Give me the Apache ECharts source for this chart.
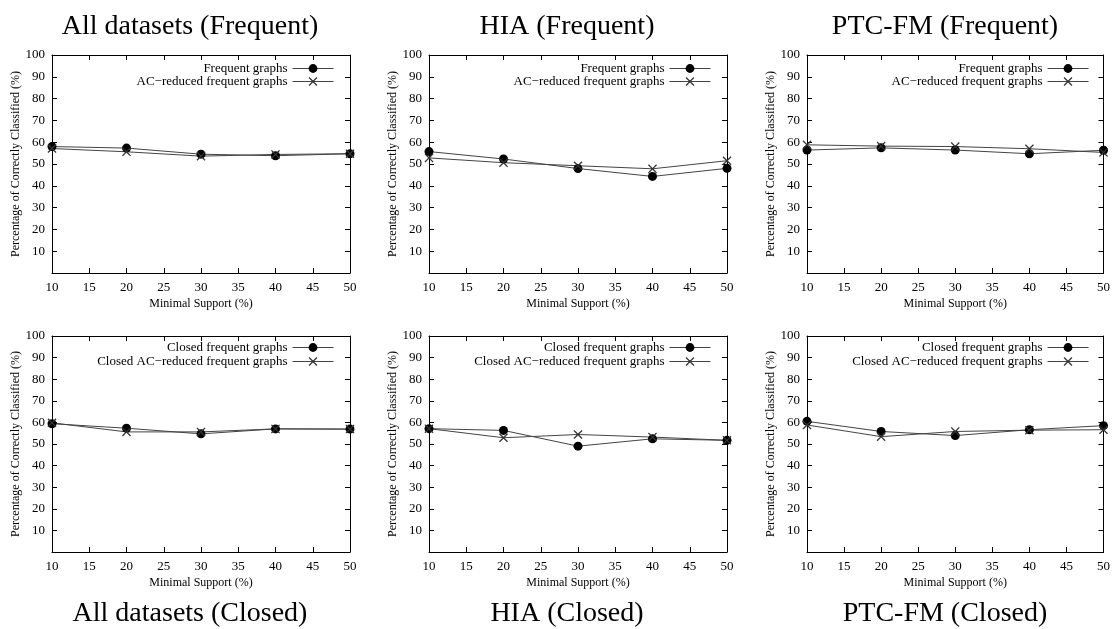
<!DOCTYPE html>
<html lang="en">
<head>
<meta charset="UTF-8">
<title>Correctly classified vs minimal support</title>
<style>
    html, body { margin: 0; padding: 0; background: #fff; }
    #chart { width: 1113px; height: 629px; }
</style>
</head>
<body>
<div id="chart"></div>
<script src="https://cdn.jsdelivr.net/npm/echarts@6/dist/echarts.min.js"></script>
<script>
    // minimal support (%) on the x axis
    let support = [10, 20, 30, 40, 50];

    // top row: frequent graphs
    let allFreq = [58.0, 57.3, 54.5, 53.8, 54.7];
    let allFreqAC = [57.1, 55.6, 53.6, 54.4, 54.7];
    let hiaFreq = [55.7, 52.3, 47.9, 44.3, 48.0];
    let hiaFreqAC = [52.8, 50.6, 49.2, 47.8, 51.5];
    let ptcFreq = [56.4, 57.4, 56.4, 54.7, 56.3];
    let ptcFreqAC = [58.8, 58.2, 58.0, 57.0, 55.3];

    // bottom row: closed frequent graphs
    let allClosed = [59.4, 57.3, 54.7, 57.0, 56.9];
    let allClosedAC = [59.8, 55.6, 55.6, 57.0, 56.9];
    let hiaClosed = [57.1, 56.3, 49.0, 52.4, 51.7];
    let hiaClosedAC = [57.1, 52.9, 54.4, 53.2, 51.7];
    let ptcClosed = [60.5, 55.8, 53.9, 56.6, 58.5];
    let ptcClosedAC = [58.8, 53.4, 55.8, 56.4, 56.6];

    let titles = ["All datasets (Frequent)", "HIA (Frequent)", "PTC-FM (Frequent)",
        "All datasets (Closed)", "HIA (Closed)", "PTC-FM (Closed)"];
    let freqNames = ["Frequent graphs", "AC\u2212reduced frequent graphs"];
    let closedNames = ["Closed frequent graphs", "Closed AC\u2212reduced frequent graphs"];

    let panels = [
        [allFreq, allFreqAC], [hiaFreq, hiaFreqAC], [ptcFreq, ptcFreqAC],
        [allClosed, allClosedAC], [hiaClosed, hiaClosedAC], [ptcClosed, ptcClosedAC]
    ];

    let font = "'Liberation Serif', 'DejaVu Serif', serif";
    let lefts = [52, 429, 807];
    let tops = [55, 336];
    let gridW = 298;
    let gridH = [218, 216];
    let crossPath = "path://M0,1L1,0L5,4L9,0L10,1L6,5L10,9L9,10L5,6L1,10L0,9L4,5Z";

    let option = {
        animation: false,
        backgroundColor: "#fff",
        title: [],
        legend: [],
        grid: [],
        xAxis: [],
        yAxis: [],
        series: []
    };

    function pairs(vals) {
        return vals.map(function (v, i) { return [support[i], v]; });
    }

    panels.forEach(function (p, i) {
        let row = Math.floor(i / 3);
        let col = i % 3;
        let left = lefts[col];
        let top = tops[row];
        let names = row === 0 ? freqNames : closedNames;

        option.title.push({
            text: titles[i],
            left: left - 52 + 185,
            textAlign: "center",
            top: row === 0 ? 8 : 595,
            textStyle: { fontFamily: font, fontSize: 28, fontWeight: "normal", color: "#000" }
        });

        option.grid.push({ left: left, top: top, width: gridW, height: gridH[row] });

        let tickStyle = { show: true, inside: true, length: 5, lineStyle: { color: "#000", width: 1 } };
        let axisLine = { show: true, onZero: false, lineStyle: { color: "#000", width: 1 } };

        option.xAxis.push({
            type: "value", gridIndex: i, min: 10, max: 50, interval: 5, position: "bottom",
            axisLine: axisLine, axisTick: tickStyle, splitLine: { show: false },
            axisLabel: { color: "#000", fontFamily: font, fontSize: 13, margin: 8 },
            name: "Minimal Support (%)", nameLocation: "middle", nameGap: 25,
            nameTextStyle: { color: "#000", fontFamily: font, fontSize: 12 }
        }, {
            type: "value", gridIndex: i, min: 10, max: 50, interval: 5, position: "top",
            axisLine: axisLine, axisTick: tickStyle, splitLine: { show: false },
            axisLabel: { show: false }
        });

        option.yAxis.push({
            type: "value", gridIndex: i, min: 0, max: 100, interval: 10, position: "left",
            axisLine: axisLine, axisTick: tickStyle, splitLine: { show: false },
            axisLabel: {
                color: "#000", fontFamily: font, fontSize: 13, margin: 7,
                formatter: function (v) { return v === 0 ? "" : v; }
            },
            name: "Percentage of Correctly Classified (%)", nameLocation: "middle", nameGap: 28,
            nameTextStyle: { color: "#000", fontFamily: font, fontSize: 12 }
        }, {
            type: "value", gridIndex: i, min: 0, max: 100, interval: 10, position: "right",
            axisLine: axisLine, axisTick: tickStyle, splitLine: { show: false },
            axisLabel: { show: false }
        });

        option.series.push({
            name: names[0], type: "line", xAxisIndex: 2 * i, yAxisIndex: 2 * i,
            data: pairs(p[0]), symbol: "circle", symbolSize: 9, clip: false,
            itemStyle: { color: "#000" }, lineStyle: { color: "#444", width: 1 }
        }, {
            name: names[1], type: "line", xAxisIndex: 2 * i, yAxisIndex: 2 * i,
            data: pairs(p[1]), symbol: crossPath, symbolSize: 9, clip: false,
            itemStyle: { color: "#333" }, lineStyle: { color: "#444", width: 1 }
        });

        let rightEdge = 1113 - (left + gridW - 16);
        let legendTop = row === 0 ? [62, 75] : [341, 355];
        names.forEach(function (n, k) {
            option.legend.push({
                data: [n], right: rightEdge, top: legendTop[k], align: "right",
                itemWidth: 41, itemHeight: 11, selectedMode: false, padding: 0,
                lineStyle: { width: 1, color: "#444" },
                textStyle: { color: "#000", fontFamily: font, fontSize: 13 }
            });
        });
    });

    let myChart = echarts.init(document.getElementById("chart"));
    myChart.setOption(option);
    window.addEventListener("resize", function () {
        myChart.resize();
    });
</script>
</body>
</html>
